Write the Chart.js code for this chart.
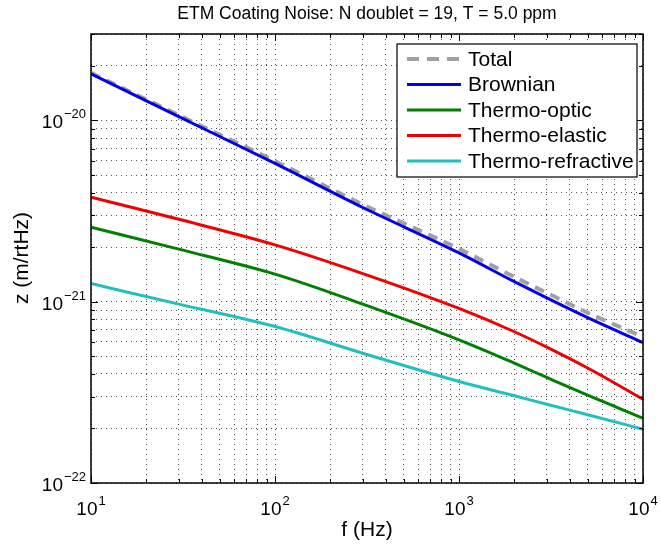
<!DOCTYPE html>
<html>
<head>
<meta charset="utf-8">
<title>ETM Coating Noise</title>
<script src="https://cdn.jsdelivr.net/npm/chart.js@4.4.0/dist/chart.umd.min.js"></script>
<style>
  html, body { margin: 0; padding: 0; background: #fff; }
</style>
</head>
<body>
<canvas id="coatingNoiseChart" width="661" height="544"></canvas>
<script>
// frequency grid (Hz) and noise amplitude spectra (m/rtHz)
const freqs = [10, 30, 100, 300, 1000, 2000, 3000, 5000, 10000];
const totalNoise = [1.83e-20, 1.07e-20, 5.97e-21, 3.44e-21, 1.96e-21, 1.37e-21, 1.12e-21, 8.7e-22, 6.4e-22];
const brownian = [1.81e-20, 1.05e-20, 5.8e-21, 3.31e-21, 1.86e-21, 1.29e-21, 1.05e-21, 8.17e-22, 5.95e-22];
const thermoOptic = [2.58e-21, 1.95e-21, 1.42e-21, 9.7e-22, 6.16e-22, 4.58e-22, 3.82e-22, 3.05e-22, 2.28e-22];
const thermoElastic = [3.77e-21, 2.85e-21, 2.06e-21, 1.43e-21, 9.18e-22, 6.83e-22, 5.62e-22, 4.31e-22, 2.9e-22];
const thermoRefractive = [1.26e-21, 9.7e-22, 7.3e-22, 5.2e-22, 3.63e-22, 3.03e-22, 2.72e-22, 2.38e-22, 1.98e-22];

// decade exponents that get a 10^n label
const xTickExps = [1, 2, 3, 4];
const yTickExps = [-22, -21, -20];

const FONT = '"Liberation Sans", Arial, Helvetica, sans-serif';

function toPoints(values) {
  return freqs.map((f, i) => ({ x: f, y: values[i] }));
}

// 1..9 x 10^n ticks between min and max
function logTicks(min, max) {
  const ticks = [];
  for (let e = Math.floor(Math.log10(min)); e <= Math.ceil(Math.log10(max)); e++) {
    for (let k = 1; k <= 9; k++) {
      const v = k * Math.pow(10, e);
      if (v >= min * 0.999 && v <= max * 1.001) ticks.push({ value: v });
    }
  }
  return ticks;
}

function isDecade(v) {
  const l = Math.log10(v);
  return Math.abs(l - Math.round(l)) < 1e-6;
}

function drawPower(ctx, exp, x, y, align) {
  const base = "10";
  const sup = String(exp).replace("-", "\u2212");
  ctx.font = `19px ${FONT}`;
  const wb = ctx.measureText(base).width;
  ctx.font = `13px ${FONT}`;
  const ws = ctx.measureText(sup).width;
  const w = wb + ws + 1;
  let start = x - w / 2;
  if (align === "right") start = x - w;
  ctx.textAlign = "left";
  ctx.textBaseline = "alphabetic";
  ctx.font = `19px ${FONT}`;
  ctx.fillText(base, start, y);
  ctx.font = `13px ${FONT}`;
  ctx.fillText(sup, start + wb + 1, y - 10);
}

const framePlugin = {
  id: "frame",
  beforeDraw(chart) {
    const { ctx, width, height } = chart;
    ctx.save();
    ctx.fillStyle = "#fff";
    ctx.fillRect(0, 0, width, height);
    ctx.restore();
  },
  afterDraw(chart) {
    const { ctx, chartArea: a, scales } = chart;
    const x = scales.x;
    const y = scales.y;
    ctx.save();

    // inward tick marks on all four sides
    ctx.strokeStyle = "#000";
    ctx.lineWidth = 1;
    ctx.beginPath();
    x.ticks.forEach(t => {
      const px = Math.round(x.getPixelForValue(t.value)) + 0.5;
      const len = isDecade(t.value) ? 7 : 4;
      ctx.moveTo(px, a.bottom); ctx.lineTo(px, a.bottom - len);
      ctx.moveTo(px, a.top); ctx.lineTo(px, a.top + len);
    });
    y.ticks.forEach(t => {
      const py = Math.round(y.getPixelForValue(t.value)) + 0.5;
      const len = isDecade(t.value) ? 7 : 4;
      ctx.moveTo(a.left, py); ctx.lineTo(a.left + len, py);
      ctx.moveTo(a.right, py); ctx.lineTo(a.right - len, py);
    });
    ctx.stroke();

    // axes box
    ctx.lineWidth = 1.5;
    ctx.strokeRect(a.left, a.top, a.right - a.left, a.bottom - a.top);

    // tick labels
    ctx.fillStyle = "#000";
    xTickExps.forEach(e => drawPower(ctx, e, x.getPixelForValue(Math.pow(10, e)), a.bottom + 32, "center"));
    yTickExps.forEach(e => drawPower(ctx, e, a.left - 5, y.getPixelForValue(Math.pow(10, e)) + 8, "right"));

    // title and axis titles
    ctx.textAlign = "center";
    ctx.font = `17.5px ${FONT}`;
    ctx.fillText("ETM Coating Noise: N doublet = 19, T = 5.0 ppm", (a.left + a.right) / 2, 19);
    ctx.font = `21px ${FONT}`;
    ctx.fillText("f (Hz)", (a.left + a.right) / 2, 536);
    ctx.save();
    ctx.translate(28, 258);
    ctx.rotate(-Math.PI / 2);
    ctx.fillText("z (m/rtHz)", 0, 0);
    ctx.restore();

    // legend box, top right inside the axes
    const bw = 240, bh = 133;
    const bx = a.right - 6 - bw, by = a.top + 10;
    ctx.fillStyle = "#fff";
    ctx.fillRect(bx, by, bw, bh);
    ctx.strokeStyle = "#000";
    ctx.lineWidth = 1.2;
    ctx.strokeRect(bx, by, bw, bh);
    ctx.font = `21px ${FONT}`;
    ctx.textAlign = "left";
    ctx.textBaseline = "middle";
    chart.data.datasets.forEach((ds, i) => {
      const ry = by + 15 + i * 25.5;
      ctx.save();
      ctx.strokeStyle = ds.borderColor;
      ctx.lineWidth = ds.borderWidth;
      ctx.setLineDash(ds.borderDash ? [12, 8] : []);
      ctx.beginPath();
      ctx.moveTo(bx + 10, ry);
      ctx.lineTo(bx + 64, ry);
      ctx.stroke();
      ctx.restore();
      ctx.fillStyle = "#000";
      ctx.fillText(ds.label, bx + 71, ry + 1);
    });

    ctx.restore();
  },
};

const gridOpts = {
  display: true,
  color: "rgba(0,0,0,0.7)",
  lineWidth: 1,
  drawTicks: false,
};

new Chart(document.getElementById("coatingNoiseChart"), {
  type: "line",
  data: {
    datasets: [
      { label: "Total", data: toPoints(totalNoise), borderColor: "#a0a0a0", borderWidth: 4, borderDash: [10, 7], order: 1 },
      { label: "Brownian", data: toPoints(brownian), borderColor: "#0000f0", borderWidth: 3, order: 0 },
      { label: "Thermo-optic", data: toPoints(thermoOptic), borderColor: "#008000", borderWidth: 3, order: 0 },
      { label: "Thermo-elastic", data: toPoints(thermoElastic), borderColor: "#f00000", borderWidth: 3, order: 0 },
      { label: "Thermo-refractive", data: toPoints(thermoRefractive), borderColor: "#20c0c0", borderWidth: 3, order: 0 },
    ],
  },
  options: {
    responsive: false,
    animation: false,
    devicePixelRatio: 1,
    layout: { padding: { left: 91, right: 18, top: 34, bottom: 61 } },
    elements: { point: { radius: 0 }, line: { cubicInterpolationMode: "monotone", fill: false } },
    plugins: {
      legend: { display: false },
      title: { display: false },
      tooltip: { enabled: false },
    },
    scales: {
      x: {
        type: "logarithmic",
        min: 10,
        max: 10000,
        grid: gridOpts,
        border: { display: false, dash: [1, 4] },
        ticks: { display: false },
        afterBuildTicks: s => { s.ticks = logTicks(10, 10000); },
        afterFit: s => { s.height = 0; },
      },
      y: {
        type: "logarithmic",
        min: 1e-22,
        max: 3e-20,
        grid: gridOpts,
        border: { display: false, dash: [1, 4] },
        ticks: { display: false },
        afterBuildTicks: s => { s.ticks = logTicks(1e-22, 3e-20); },
        afterFit: s => { s.width = 0; },
      },
    },
  },
  plugins: [framePlugin],
});
</script>
</body>
</html>
